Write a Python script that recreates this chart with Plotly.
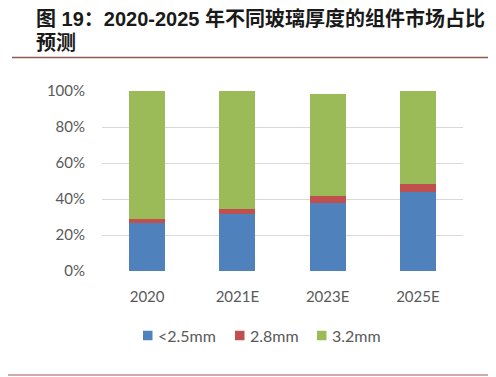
import plotly.graph_objects as go

categories = ["2020", "2021E", "2023E", "2025E"]
series_names = ["<2.5mm", "2.8mm", "3.2mm"]
thin_vals = [26.5, 31.7, 37.6, 43.7]
mid_vals = [2.2, 2.9, 4.3, 4.8]
thick_vals = [71.3, 65.4, 56.3, 51.5]
y_ticks = [0, 20, 40, 60, 80, 100]
y_tick_labels = ["0%", "20%", "40%", "60%", "80%", "100%"]

colors = ["#4F81BD", "#C0504D", "#9BBB59"]

# page body has an 8px default margin; figure is offset by 8px
OFF = 8
W, H = 496 - OFF, 377 - OFF
PLOT_L, PLOT_R, PLOT_T, PLOT_B = 102, 463, 91, 271  # reference pixel coords
L, T = PLOT_L - OFF, PLOT_T - OFF
R, B = 496 - PLOT_R, 377 - PLOT_B
PW, PH = PLOT_R - PLOT_L, PLOT_B - PLOT_T

def px_x(x):
    return (x - PLOT_L) / PW

def px_y(y):
    return (PLOT_B - y) / PH

fig = go.Figure()
for name, vals, c in zip(series_names, [thin_vals, mid_vals, thick_vals], colors):
    fig.add_trace(go.Bar(x=categories, y=vals, name=name, marker=dict(color=c, line=dict(width=0))))

tick_font = dict(family="Lato, Open Sans, sans-serif", size=15, color="#595959")
legend_font = dict(family="Lato, Open Sans, sans-serif", size=16, color="#595959")
title_font = dict(family="Liberation Sans, Noto Sans CJK SC, sans-serif", size=20, color="#1a1a1a")

annotations = [
    dict(text="<b>图 19：2020-2025 年不同玻璃厚度的组件市场占比</b>", x=px_x(34), y=px_y(18),
         xref="paper", yref="paper", xanchor="left", yanchor="middle", showarrow=False, font=title_font),
    dict(text="<b>预测</b>", x=px_x(34), y=px_y(43),
         xref="paper", yref="paper", xanchor="left", yanchor="middle", showarrow=False, font=title_font),
]
shapes = [
    dict(type="line", xref="paper", yref="paper", x0=px_x(12), x1=px_x(496), y0=px_y(57.5), y1=px_y(57.5),
         line=dict(color="#8c5a55", width=1.5)),
    dict(type="line", xref="paper", yref="paper", x0=px_x(8), x1=px_x(496), y0=px_y(375), y1=px_y(375),
         line=dict(color="#d4a9aa", width=2)),
]

# legend (manual, to match the reference spacing)
legend_square_left = [143, 235, 317]
legend_y = 335.5
for name, c, sx in zip(series_names, colors, legend_square_left):
    shapes.append(dict(type="rect", xref="paper", yref="paper",
                       x0=px_x(sx), x1=px_x(sx + 9.5), y0=px_y(legend_y - 4.75), y1=px_y(legend_y + 4.75),
                       fillcolor=c, line=dict(width=0)))
    annotations.append(dict(text=name, x=px_x(sx + 13), y=px_y(legend_y), xref="paper", yref="paper",
                            xanchor="left", yanchor="middle", showarrow=False, font=legend_font))

fig.update_layout(
    width=W, height=H,
    margin=dict(l=L, r=R, t=T, b=B),
    paper_bgcolor="white", plot_bgcolor="white",
    barmode="stack", bargap=0.6,
    showlegend=False,
    xaxis=dict(showgrid=False, showline=False, ticks="", tickfont=tick_font, ticklabelstandoff=15),
    yaxis=dict(range=[0, 100], tickvals=y_ticks, ticktext=y_tick_labels, showgrid=True,
               gridcolor="#d9d9d9", gridwidth=1, zeroline=False, showline=False, ticks="",
               tickfont=tick_font, ticklabelstandoff=16),
    annotations=annotations,
    shapes=shapes,
)

fig.write_html("out.html")
